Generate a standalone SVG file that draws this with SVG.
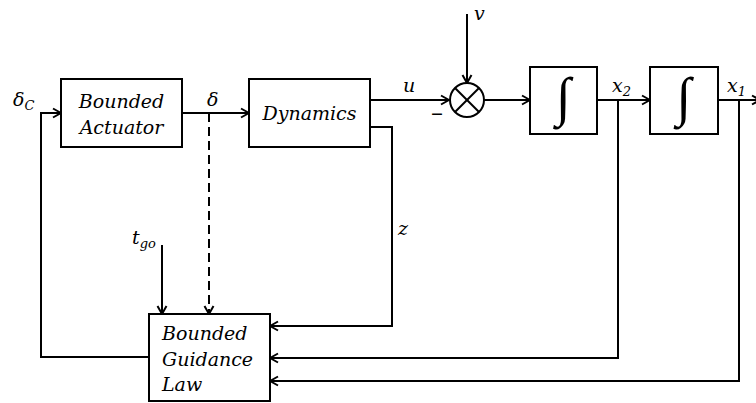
<svg xmlns="http://www.w3.org/2000/svg" width="756" height="403" viewBox="0 0 756 403">
<style>
.box{fill:#fff;stroke:#000;stroke-width:2}
.ln{fill:none;stroke:#000;stroke-width:2}
.arr{marker-end:url(#ah)}
.dash{stroke-dasharray:9 5}
.t{font-family:"DejaVu Serif","Liberation Serif",serif;font-style:italic;font-size:19px;fill:#000}
.m{font-family:"DejaVu Serif","Liberation Serif",serif;font-style:italic;font-size:19px;fill:#000}
.s{font-size:13px}
.int{font-family:"Liberation Serif","DejaVu Serif",serif;font-size:54px;fill:#000}
.minus{font-family:"DejaVu Serif","Liberation Serif",serif;font-size:24px;fill:#000}
</style>
<defs>
<marker id="ah" viewBox="0 0 12 12" refX="11" refY="6" markerWidth="12" markerHeight="12" markerUnits="userSpaceOnUse" orient="auto">
<polyline points="3,1.5 11,6 3,10.5" fill="none" stroke="#000" stroke-width="2"/>
</marker>
</defs>
<g id="connectors">
<polyline class="ln arr" points="149,357 41,357 41,113 61,113"/>
<line class="ln arr" x1="182" y1="113" x2="249" y2="113"/>
<line class="ln arr dash" x1="209" y1="113" x2="209" y2="314"/>
<line class="ln arr" x1="370" y1="100" x2="449" y2="100"/>
<polyline class="ln arr" points="370,127 392,127 392,326 270,326"/>
<line class="ln arr" x1="467" y1="14" x2="467" y2="83"/>
<line class="ln arr" x1="484" y1="100" x2="530" y2="100"/>
<line class="ln arr" x1="597" y1="100" x2="650" y2="100"/>
<line class="ln arr" x1="718" y1="100" x2="760" y2="100"/>
<polyline class="ln arr" points="618,100 618,358 270,358"/>
<polyline class="ln arr" points="739,100 739,381 270,381"/>
<line class="ln arr" x1="162" y1="245" x2="162" y2="314"/>
</g>
<g id="actuator">
<rect class="box" x="61" y="79" width="121" height="68"/>
<text class="t" x="121.5" y="108" text-anchor="middle">Bounded</text>
<text class="t" x="121.5" y="134" text-anchor="middle">Actuator</text>
</g>
<g id="dynamics">
<rect class="box" x="249" y="79" width="121" height="68"/>
<text class="t" x="309.5" y="120" text-anchor="middle">Dynamics</text>
</g>
<g id="sum">
<circle class="box" cx="467" cy="100" r="17"/>
<line class="ln" x1="455" y1="88" x2="479" y2="112"/>
<line class="ln" x1="479" y1="88" x2="455" y2="112"/>
</g>
<g id="integrator1">
<rect class="box" x="530" y="67" width="67" height="67"/>
<text class="int" x="563.5" y="115" text-anchor="middle">∫</text>
</g>
<g id="integrator2">
<rect class="box" x="650" y="67" width="68" height="67"/>
<text class="int" x="684" y="115" text-anchor="middle">∫</text>
</g>
<g id="guidance">
<rect class="box" x="149" y="314" width="121" height="87"/>
<text class="t" x="162" y="340">Bounded</text>
<text class="t" x="162" y="366">Guidance</text>
<text class="t" x="162" y="391">Law</text>
</g>
<g id="labels">
<text class="m" x="13" y="106">δ<tspan class="s" dy="4">C</tspan></text>
<text class="m" x="207" y="106">δ</text>
<text class="m" x="403" y="92">u</text>
<text class="m" x="474" y="20">v</text>
<text class="minus" x="431" y="121">–</text>
<text class="m" x="612" y="92">x<tspan class="s" dy="4">2</tspan></text>
<text class="m" x="727" y="92">x<tspan class="s" dy="4">1</tspan></text>
<text class="m" x="132" y="244">t<tspan class="s" dy="4">go</tspan></text>
<text class="m" x="398" y="235">z</text>
</g>
</svg>
